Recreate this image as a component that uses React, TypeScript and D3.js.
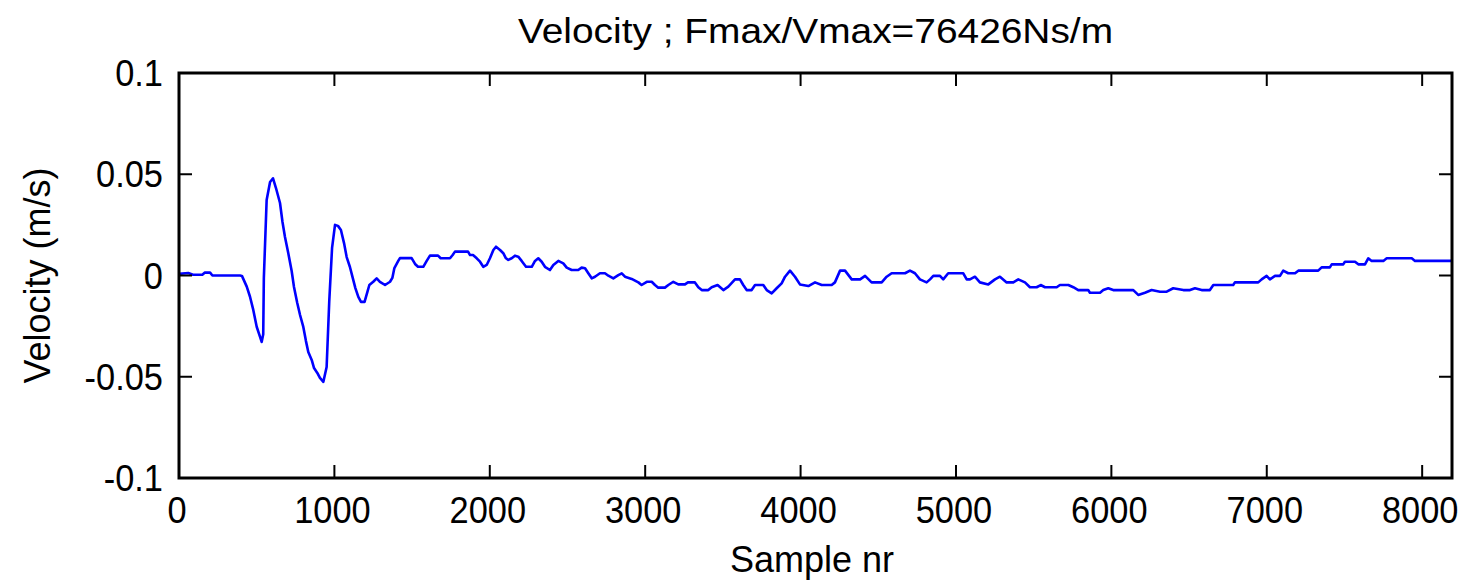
import React from "react";
import * as d3 from "d3";

const titleText = "Velocity ; Fmax/Vmax=76426Ns/m";
const xLabelText = "Sample nr";
const yLabelText = "Velocity (m/s)";

const xTickValues = [0, 1000, 2000, 3000, 4000, 5000, 6000, 7000, 8000];
const xTickLabels = ["0", "1000", "2000", "3000", "4000", "5000", "6000", "7000", "8000"];
const yTickValues = [-0.1, -0.05, 0, 0.05, 0.1];
const yTickLabels = ["-0.1", "-0.05", "0", "0.05", "0.1"];

const sampleNr = [
  0, 60, 90, 150, 165, 200, 215, 393, 405, 436, 457, 478, 500, 521, 532, 542, 546, 564, 586, 605,
  624, 650, 666, 682, 703, 725, 740, 761, 779, 800, 817, 832, 854, 869, 890, 907, 929, 950, 967, 985,
  1004, 1023, 1042, 1062, 1079, 1100, 1118, 1135, 1154, 1171, 1194, 1212, 1225, 1250, 1272, 1293, 1326, 1358, 1373, 1386,
  1411, 1422, 1497, 1519, 1538, 1572, 1594, 1615, 1667, 1684, 1744, 1761, 1776, 1860, 1873, 1892, 1916, 1937, 1958, 1980,
  2001, 2023, 2040, 2066, 2087, 2104, 2119, 2141, 2162, 2183, 2205, 2233, 2270, 2291, 2312, 2334, 2355, 2387, 2409, 2441,
  2473, 2495, 2527, 2569, 2591, 2613, 2634, 2656, 2677, 2709, 2741, 2763, 2795, 2827, 2849, 2870, 2913, 2956, 2977, 3010,
  3042, 3063, 3084, 3127, 3149, 3181, 3213, 3256, 3275, 3320, 3342, 3364, 3406, 3428, 3466, 3503, 3535, 3578, 3610, 3631,
  3653, 3685, 3707, 3760, 3782, 3814, 3846, 3878, 3900, 3932, 3964, 3996, 4050, 4093, 4136, 4200, 4221, 4254, 4286, 4329,
  4383, 4415, 4457, 4522, 4554, 4586, 4672, 4704, 4736, 4768, 4811, 4833, 4854, 4897, 4918, 4950, 5047, 5069, 5090, 5122,
  5154, 5208, 5251, 5283, 5326, 5369, 5401, 5444, 5476, 5519, 5545, 5573, 5648, 5669, 5723, 5755, 5787, 5851, 5862, 5927,
  5948, 5980, 6012, 6141, 6173, 6216, 6259, 6313, 6356, 6398, 6463, 6506, 6538, 6581, 6634, 6656, 6784, 6795, 6945, 6967,
  6999, 7020, 7053, 7085, 7106, 7138, 7182, 7203, 7331, 7353, 7406, 7418, 7492, 7503, 7568, 7589, 7632, 7653, 7675, 7750,
  7772, 7933, 7954, 8192,
];

const velocity = [
  0.0008, 0.0012, 0.0004, 0.0004, 0.0014, 0.0014, 0, 0, -0.0002, -0.0055, -0.0105, -0.017, -0.0253, -0.0302, -0.0328, -0.029, -0.0012, 0.0373, 0.0462, 0.048,
  0.0432, 0.0358, 0.0264, 0.019, 0.0111, 0.0022, -0.0057, -0.0136, -0.0195, -0.0254, -0.0324, -0.0378, -0.0417, -0.0457, -0.0481, -0.0506, -0.0525, -0.0452, -0.0126, 0.0136,
  0.025, 0.0245, 0.0225, 0.016, 0.0091, 0.0042, -0.0012, -0.0062, -0.0106, -0.013, -0.013, -0.0082, -0.0047, -0.0031, -0.0014, -0.0031, -0.0047, -0.0031, -0.0012, 0.0037,
  0.0072, 0.0086, 0.0086, 0.0057, 0.0043, 0.0043, 0.0072, 0.0098, 0.0098, 0.0085, 0.0085, 0.0101, 0.0118, 0.0118, 0.0101, 0.0101, 0.0085, 0.0068, 0.0043, 0.0052,
  0.0085, 0.0126, 0.0142, 0.0126, 0.011, 0.0085, 0.0077, 0.0085, 0.0098, 0.0093, 0.0072, 0.0043, 0.0043, 0.0072, 0.0085, 0.0068, 0.0043, 0.0027, 0.0052, 0.0072,
  0.006, 0.0039, 0.0027, 0.0027, 0.0039, 0.0036, 0.0011, -0.0014, -0.0006, 0.0011, 0.0011, -0.0001, -0.0014, 0.0002, 0.0011, -0.0006, -0.0017, -0.0034, -0.0047, -0.0031,
  -0.0031, -0.0047, -0.006, -0.006, -0.0047, -0.0031, -0.0044, -0.0044, -0.0034, -0.0034, -0.0058, -0.0072, -0.0072, -0.0058, -0.0047, -0.0072, -0.0055, -0.0019, -0.0019, -0.0047,
  -0.0072, -0.0072, -0.0047, -0.0047, -0.0072, -0.0088, -0.0063, -0.0039, -0.0006, 0.0024, -0.0006, -0.0044, -0.0052, -0.0034, -0.0047, -0.0047, -0.0034, 0.0024, 0.0024, -0.0019,
  -0.0019, -0.0002, -0.0034, -0.0034, -0.0006, 0.0011, 0.0011, 0.0024, 0.0011, -0.0019, -0.0034, -0.0019, -0.0002, -0.0002, -0.0019, 0.0011, 0.0011, -0.0019, -0.0019, -0.0006,
  -0.0034, -0.0044, -0.0019, -0.0006, -0.0034, -0.0034, -0.0019, -0.0034, -0.0058, -0.0058, -0.0047, -0.0058, -0.0058, -0.0047, -0.0047, -0.0058, -0.0072, -0.0072, -0.0085, -0.0085,
  -0.0072, -0.0063, -0.0072, -0.0072, -0.0096, -0.0085, -0.0072, -0.008, -0.008, -0.0063, -0.0072, -0.0072, -0.0063, -0.0072, -0.0072, -0.0047, -0.0047, -0.0034, -0.0034, -0.0019,
  -0.0002, -0.0019, -0.0002, -0.0002, 0.0024, 0.0011, 0.0011, 0.0024, 0.0024, 0.004, 0.004, 0.0055, 0.0055, 0.0068, 0.0068, 0.0055, 0.0055, 0.0085, 0.0072, 0.0072,
  0.0085, 0.0085, 0.0072, 0.0072,
];

const W = 1473;
const H = 586;
const LEFT = 179;
const RIGHT = 1452;
const TOP = 73;
const BOTTOM = 478;
const TICK = 13;
const FONT = "'Liberation Sans', Arial, Helvetica, sans-serif";

export default function App() {
  const x = d3.scaleLinear().domain([0, 8192]).range([LEFT, RIGHT]);
  const y = d3.scaleLinear().domain([-0.1, 0.1]).range([BOTTOM, TOP]);
  const data = sampleNr.map((s, i) => [s, velocity[i]] as [number, number]);
  const line = d3
    .line<[number, number]>()
    .x((d) => x(d[0]))
    .y((d) => y(d[1]));

  return (
    <svg
      width={W}
      height={H}
      style={{ position: "absolute", left: 0, top: 0, background: "#fff" }}
    >
      <rect x={0} y={0} width={W} height={H} fill="#fff" />
      <path
        d={line(data) || ""}
        fill="none"
        stroke="#0000ff"
        strokeWidth={2.6}
        strokeLinejoin="round"
      />
      {xTickValues.map((v) => (
        <g key={"xt" + v} stroke="#000" strokeWidth={2}>
          <line x1={x(v)} x2={x(v)} y1={BOTTOM} y2={BOTTOM - TICK} />
          <line x1={x(v)} x2={x(v)} y1={TOP} y2={TOP + TICK} />
        </g>
      ))}
      {yTickValues.map((v) => (
        <g key={"yt" + v} stroke="#000" strokeWidth={2}>
          <line x1={LEFT} x2={LEFT + TICK} y1={y(v)} y2={y(v)} />
          <line x1={RIGHT} x2={RIGHT - TICK} y1={y(v)} y2={y(v)} />
        </g>
      ))}
      <rect
        x={LEFT}
        y={TOP}
        width={RIGHT - LEFT}
        height={BOTTOM - TOP}
        fill="none"
        stroke="#000"
        strokeWidth={3}
      />
      {xTickValues.map((v, i) => (
        <g key={"xl" + v} transform={`translate(${x(v) - 2},523) scale(0.93,1)`}>
          <text textAnchor="middle" fontFamily={FONT} fontSize={37} fill="#000">
            {xTickLabels[i]}
          </text>
        </g>
      ))}
      {yTickValues.map((v, i) => (
        <g key={"yl" + v} transform={`translate(163,${y(v) + 13}) scale(0.93,1)`}>
          <text textAnchor="end" fontFamily={FONT} fontSize={37} fill="#000">
            {yTickLabels[i]}
          </text>
        </g>
      ))}
      <g transform={`translate(${(LEFT + RIGHT) / 2},43) scale(1.08,1)`}>
        <text textAnchor="middle" fontFamily={FONT} fontSize={36} fill="#000">
          {titleText}
        </text>
      </g>
      <g transform={`translate(812,572)`}>
        <text textAnchor="middle" fontFamily={FONT} fontSize={36} fill="#000">
          {xLabelText}
        </text>
      </g>
      <g transform={`translate(50,${(TOP + BOTTOM) / 2}) rotate(-90)`}>
        <text textAnchor="middle" fontFamily={FONT} fontSize={36} fill="#000">
          {yLabelText}
        </text>
      </g>
    </svg>
  );
}
